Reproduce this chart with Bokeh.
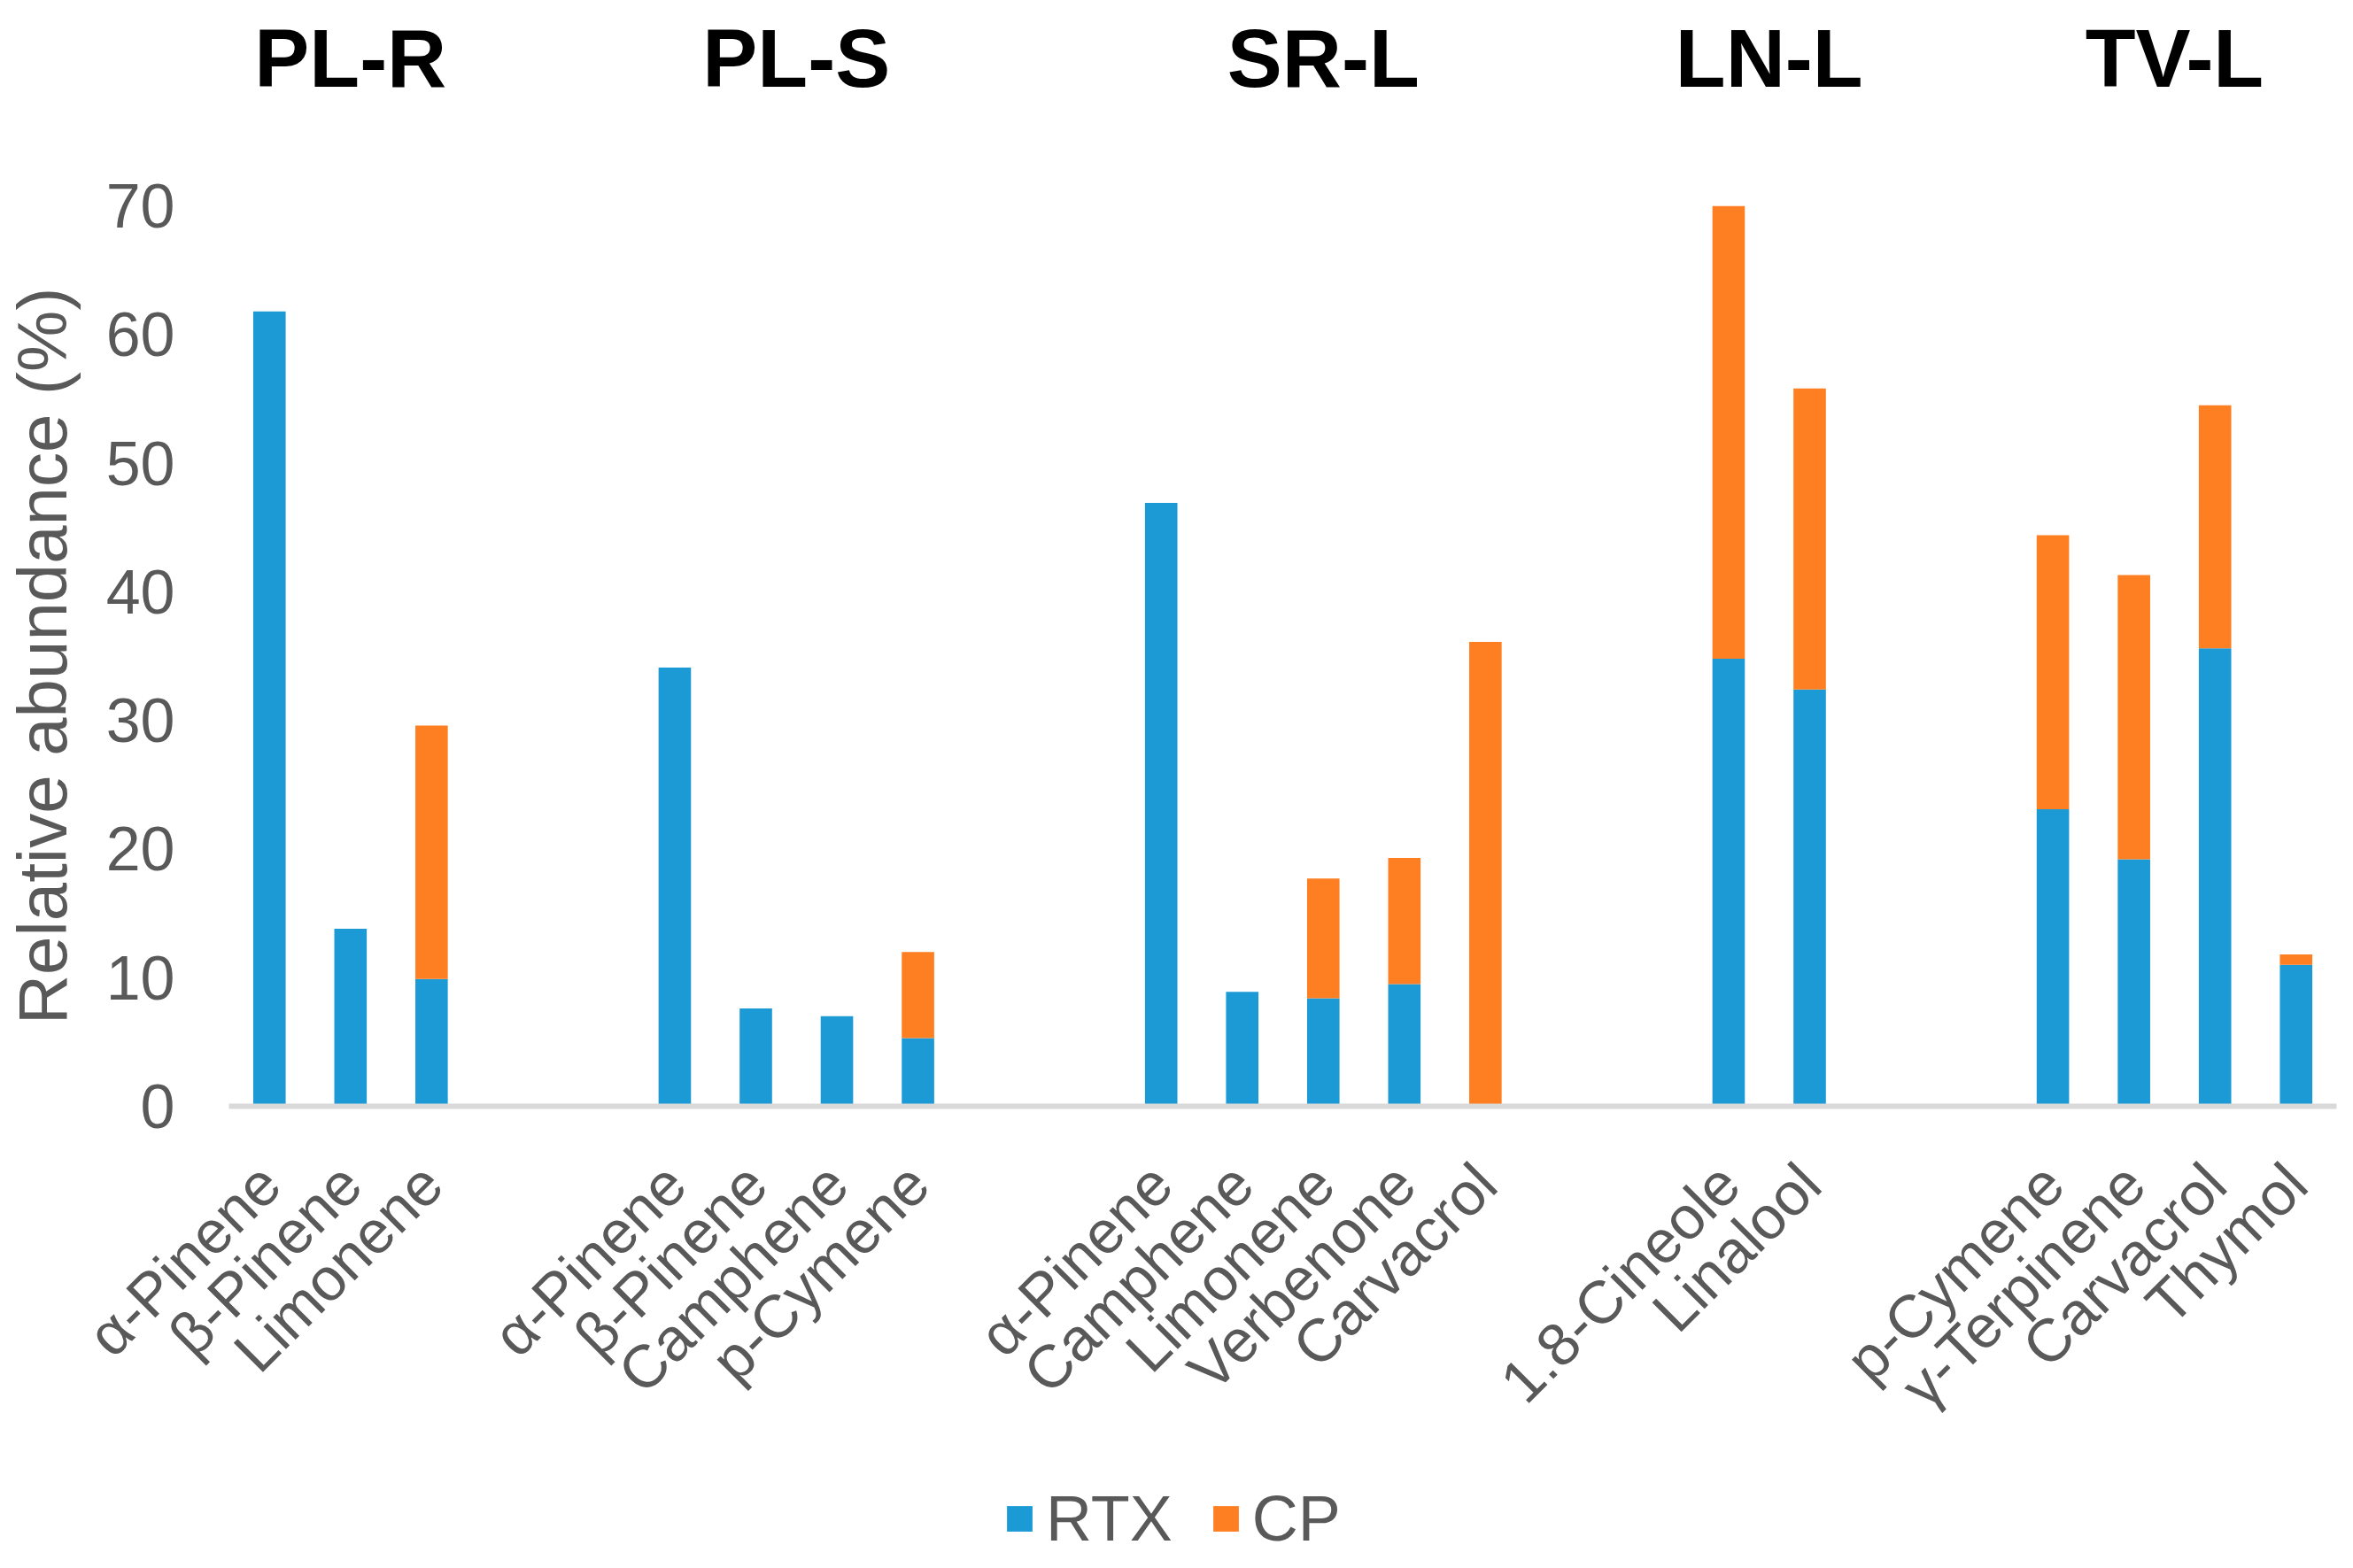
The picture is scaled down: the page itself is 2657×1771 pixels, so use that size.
import math
from bokeh.plotting import figure
from bokeh.layouts import column
from bokeh.models import (ColumnDataSource, FactorRange, Range1d, CategoricalAxis,
                          SingleIntervalTicker, Legend, LegendItem)
from bokeh.embed import file_html
from bokeh.resources import INLINE

# ---------------- data ----------------
groups = ["PL-R", "PL-S", "SR-L", "LN-L", "TV-L"]
compounds = [
    ["α-Pinene", "β-Pinene", "Limonene"],
    ["α-Pinene", "β-Pinene", "Camphene", "p-Cymene"],
    ["α-Pinene", "Camphene", "Limonene", "Verbenone", "Carvacrol"],
    ["1.8-Cineole", "Linalool"],
    ["p-Cymene", "γ-Terpinene", "Carvacrol", "Thymol"],
]
rtx = [61.8, 13.8, 9.9,
       34.1, 7.6, 7.0, 5.3,
       46.9, 8.9, 8.4, 9.5, 0.0,
       34.8, 32.4,
       23.1, 19.2, 35.6, 11.0]
cp = [0.0, 0.0, 19.7,
      0.0, 0.0, 0.0, 6.7,
      0.0, 0.0, 9.3, 9.8, 36.1,
      35.2, 23.4,
      21.3, 22.1, 18.9, 0.8]
series = ["RTX", "CP"]
colors = ["#1b9ad6", "#fe7f22"]
y_ticks_interval = 10
y_max = 70
y_label = "Relative abundance (%)"

# ---------------- build ----------------
factors = [(g, c) for g, cs in zip(groups, compounds) for c in cs]
source = ColumnDataSource(data=dict(x=factors, RTX=rtx, CP=cp))

FONT = "Liberation Sans"
GRAY = "#595959"
W, H = 2640, 1755

xr = FactorRange(*factors, group_padding=2.0)
p = figure(x_range=xr, y_range=Range1d(0, y_max),
           width=W, height=H,
           output_backend="svg", toolbar_location=None,
           min_border_left=254, min_border_right=2,
           min_border_top=232, min_border_bottom=506)

p.vbar_stack(series, x="x", width=0.4, source=source, color=colors,
             line_color=None)

p.xgrid.grid_line_color = None
p.ygrid.grid_line_color = None
p.outline_line_color = None

# bottom axis
xa = p.xaxis[0]
xa.axis_line_color = "#d9d9d9"
xa.axis_line_width = 6
xa.major_tick_line_color = None
xa.minor_tick_line_color = None
xa.major_label_orientation = math.pi / 4
xa.major_label_text_font = FONT
xa.major_label_text_font_size = "68px"
xa.major_label_text_color = GRAY
xa.major_label_standoff = 70
xa.group_text_font_size = "0px"
xa.group_text_color = None
xa.separator_line_color = None

# top axis carrying the group titles
ta = CategoricalAxis()
ta.axis_line_color = None
ta.major_tick_line_color = None
ta.minor_tick_line_color = None
ta.major_label_text_font_size = "0px"
ta.major_label_text_color = None
ta.major_label_standoff = 109
ta.separator_line_color = None
ta.group_text_font = FONT
ta.group_text_font_size = "93px"
ta.group_text_font_style = "bold"
ta.group_text_color = "black"
p.add_layout(ta, "above")

# y axis
ya = p.yaxis[0]
ya.ticker = SingleIntervalTicker(interval=y_ticks_interval)
ya.axis_line_color = None
ya.major_tick_line_color = None
ya.minor_tick_line_color = None
ya.major_tick_out = 0
ya.major_label_standoff = 57
ya.major_label_text_font = FONT
ya.major_label_text_font_size = "70px"
ya.major_label_text_color = GRAY
ya.axis_label = y_label
ya.axis_label_text_font = FONT
ya.axis_label_text_font_size = "78px"
ya.axis_label_text_font_style = "normal"
ya.axis_label_text_color = GRAY
ya.axis_label_standoff = 25

# ---------------- legend strip (overlaid on the bottom of the chart) ----------------
LH = 130
q = figure(width=W, height=LH, x_range=xr, y_range=Range1d(0, 1),
           output_backend="svg", toolbar_location=None, min_border=0,
           x_axis_type=None, y_axis_type=None)
q.margin = (-LH, 0, 0, 0)
q.background_fill_alpha = 0
q.border_fill_alpha = 0
q.outline_line_color = None
legend_renderers = q.vbar_stack(series, x="x", width=0.4, source=source,
                                color=colors, line_color=None, visible=False)
items = [LegendItem(label=name, renderers=[r])
         for name, r in zip(series, legend_renderers)]
lg = Legend(items=items, orientation="horizontal", location=(875, -1),
            label_text_font=FONT, label_text_font_size="72px",
            label_text_color=GRAY, glyph_width=36, glyph_height=36,
            label_standoff=12, spacing=42, padding=0, margin=0,
            border_line_color=None, background_fill_alpha=0,
            inactive_fill_alpha=0)
q.add_layout(lg)

open("out.html", "w").write(file_html(column(p, q, spacing=0), INLINE))
